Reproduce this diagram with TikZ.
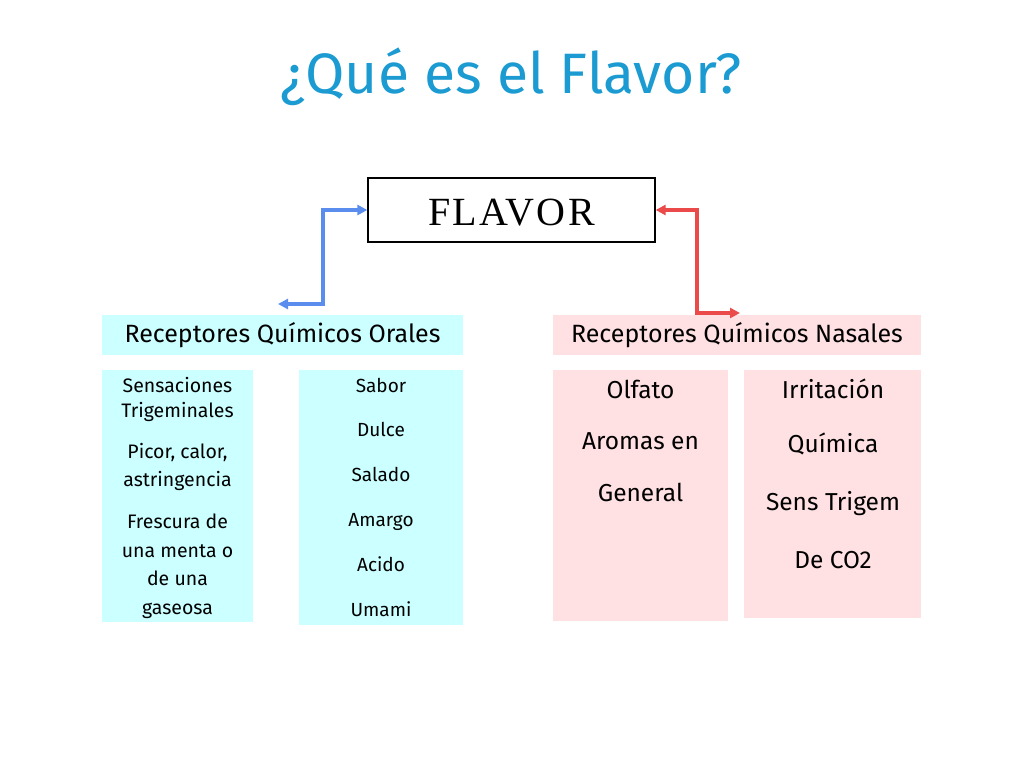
\documentclass[tikz,border=0pt]{standalone}
\usepackage{fontspec}
\setmainfont{Fira Sans}
\newfontfamily\flavorfont[LetterSpace=6]{Liberation Serif}
\usetikzlibrary{arrows.meta}
\definecolor{titleblue}{HTML}{1B9BD1}
\definecolor{oralfill}{HTML}{CCFFFF}
\definecolor{nasalfill}{HTML}{FFE1E3}
\definecolor{bluearrow}{HTML}{5B8DEF}
\definecolor{redarrow}{HTML}{EA4A4A}
\tikzset{
  hdr/.style={inner sep=0pt, font=\fontsize{25}{29}\selectfont, text=black},
  txt/.style={inner sep=0pt, text=black, anchor=base},
  conn/.style={line width=3.4pt, {Triangle[length=10pt,width=10pt]}-{Triangle[length=10pt,width=10pt]}},
}
\begin{document}
\begin{tikzpicture}[x=1pt,y=-1pt]
\useasboundingbox[fill=white] (0,0) rectangle (1024,768);
% title
\node[inner sep=0pt, text=titleblue, font=\fontsize{57}{62}\selectfont, anchor=base] (title) at (511,93) {¿Qué es el Flavor?};
% FLAVOR box
\node[draw=black, line width=1.3pt, minimum width=287pt, minimum height=64pt, inner sep=0pt] (flavor) at (511.5,210) {};
\node[inner sep=0pt, anchor=base, font=\flavorfont\fontsize{40}{44}\selectfont] (flavortxt) at (511.5,225) {FLAVOR};
% header boxes
\fill[oralfill] (102,315) rectangle (463,355);
\node[hdr] (oral) at (282.5,335) {Receptores Químicos Orales};
\fill[nasalfill] (553,315) rectangle (921,355);
\node[hdr] (nasal) at (737,335) {Receptores Químicos Nasales};
\coordinate (oralend) at (278,304);
\coordinate (nasalend) at (740,313);
% connectors
\draw[conn, bluearrow] (flavor.west) -- (323,210) -- (323,304) -- (oralend);
\draw[conn, redarrow] (flavor.east) -- (697,210) -- (697,313) -- (nasalend);
% column boxes
\fill[oralfill] (102,370) rectangle (253,622);
\fill[oralfill] (299,370) rectangle (463,625);
\fill[nasalfill] (553,370) rectangle (728,621);
\fill[nasalfill] (744,370) rectangle (921,618);
% box 1 texts
\begin{scope}[font=\fontsize{19.5}{23}\selectfont]
\node[txt] (s1) at (177.5,392) {Sensaciones};
\node[txt] (s2) at (177.5,417) {Trigeminales};
\node[txt] (s3) at (177.5,458) {Picor, calor,};
\node[txt] (s4) at (177.5,486) {astringencia};
\node[txt] (s5) at (177.5,528) {Frescura de};
\node[txt] (s6) at (177.5,557) {una menta o};
\node[txt] (s7) at (177.5,585) {de una};
\node[txt] (s8) at (177.5,614) {gaseosa};
\end{scope}
% box 2 texts
\begin{scope}[font=\fontsize{19}{22}\selectfont]
\node[txt] (b1) at (381,392) {Sabor};
\node[txt] (b2) at (381,436) {Dulce};
\node[txt] (b3) at (381,481) {Salado};
\node[txt] (b4) at (381,526) {Amargo};
\node[txt] (b5) at (381,571) {Acido};
\node[txt] (b6) at (381,616) {Umami};
\end{scope}
% box 3 texts
\begin{scope}[font=\fontsize{24.5}{28}\selectfont]
\node[txt] (c1) at (640.5,398) {Olfato};
\node[txt] (c2) at (640.5,449) {Aromas en};
\node[txt] (c3) at (640.5,501) {General};
% box 4 texts
\node[txt] (d1) at (833,398) {Irritación};
\node[txt] (d2) at (833,452) {Química};
\node[txt] (d3) at (833,510) {Sens Trigem};
\node[txt] (d4) at (833,568) {De CO2};
\end{scope}
\end{tikzpicture}
\end{document}
